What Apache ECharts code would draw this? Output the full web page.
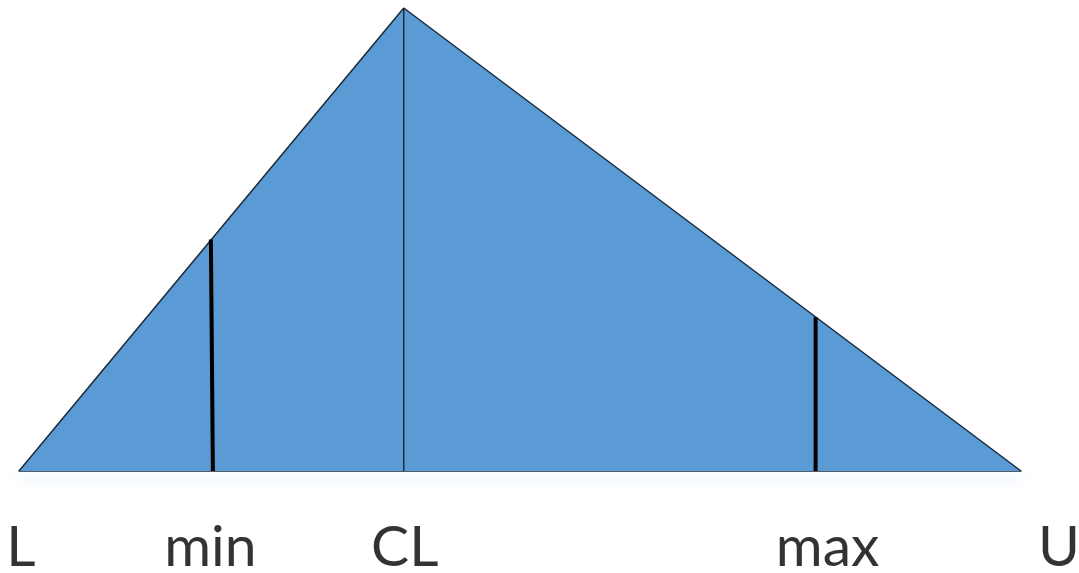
<!DOCTYPE html>
<html>
<head>
<meta charset="utf-8">
<script src="https://cdn.jsdelivr.net/npm/echarts@6/dist/echarts.min.js"></script>
<style>
  html, body { margin: 0; padding: 0; background: #fff; }
  #main { width: 1079px; height: 573px; }
</style>
</head>
<body>
<div id="main"></div>
<script>
// triangular distribution: L .. CL .. U, with min / max markers
const labels = ['L', 'min', 'CL', 'max', 'U'];
const labelX = [0.2, 19.1, 38.5, 80.7, 103.8];
const triangleX = [0, 38.4, 100];
const triangleY = [0, 1, 0];
const minLineX = [19.35, 19.15];
const minLineY = [0, 0.5];
const maxLineX = [79.5, 79.5];
const maxLineY = [0, 0.332];

const chartDom = document.getElementById('main');
const myChart = echarts.init(chartDom);

const toPairs = (xs, ys) => xs.map((x, i) => [x, ys[i]]);

let option = {
  animation: false,
  grid: { left: 19, right: 58, top: 8, bottom: 102 },
  xAxis: {
    type: 'value',
    min: 0,
    max: 100,
    axisLine: {
      show: true,
      lineStyle: {
        color: '#1d2a38',
        width: 1.5,
        shadowColor: 'rgba(91,155,213,0.45)',
        shadowBlur: 12,
        shadowOffsetY: 8
      }
    },
    axisTick: { show: false },
    axisLabel: { show: false },
    splitLine: { show: false }
  },
  yAxis: {
    type: 'value',
    min: 0,
    max: 1,
    show: false
  },
  series: [
    {
      type: 'line',
      data: toPairs(triangleX, triangleY),
      symbol: 'none',
      z: 1,
      lineStyle: { color: '#1d2a38', width: 1.5 },
      areaStyle: { color: '#5b9bd5', opacity: 1 }
    },
    {
      type: 'line',
      data: [[triangleX[1], 0], [triangleX[1], triangleY[1]]],
      symbol: 'none',
      z: 3,
      lineStyle: { color: '#111', width: 1.2 }
    },
    {
      type: 'line',
      data: toPairs(minLineX, minLineY),
      symbol: 'none',
      z: 3,
      lineStyle: { color: '#000', width: 4 }
    },
    {
      type: 'line',
      data: toPairs(maxLineX, maxLineY),
      symbol: 'none',
      z: 3,
      lineStyle: { color: '#000', width: 4 }
    },
    {
      type: 'scatter',
      clip: false,
      symbolSize: 0,
      silent: true,
      data: labelX.map((x, i) => ({ value: [x, -0.166], name: labels[i] })),
      label: {
        show: true,
        position: 'inside',
        formatter: '{b}',
        fontFamily: 'Lato',
        fontSize: 57,
        color: '#000',
        textBorderWidth: 0
      }
    }
  ]
};

myChart.setOption(option);
</script>
</body>
</html>
